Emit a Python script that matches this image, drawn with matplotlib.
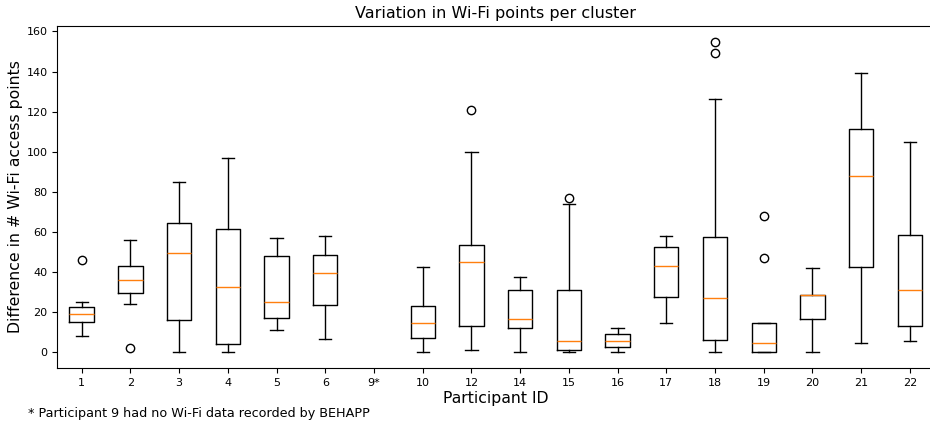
import matplotlib.pyplot as plt

participants = ['1', '2', '3', '4', '5', '6', '9*', '10', '12', '14',
                '15', '16', '17', '18', '19', '20', '21', '22']

# box statistics per participant (None = no data for that participant)
whislo = [8.0, 24.0, 0.0, 0.0, 11.0, 6.8, None, 0.0, 1.0, 0.0,
          0.0, 0.0, 14.6, 0.0, 0.0, 0.0, 4.7, 5.8]
q1 = [15.1, 29.8, 16.3, 4.3, 17.3, 23.6, None, 7.3, 13.1, 12.0,
      1.0, 2.7, 27.8, 6.3, 0.0, 16.8, 42.4, 13.1]
med = [19.0, 36.1, 49.7, 32.4, 25.1, 39.6, None, 14.6, 44.9, 16.8,
       5.8, 5.8, 42.9, 27.3, 4.7, 28.8, 88.0, 30.9]
q3 = [22.6, 42.9, 64.5, 61.7, 48.1, 48.6, None, 23.1, 53.6, 30.9,
      30.9, 9.0, 52.7, 57.6, 14.6, 28.8, 111.6, 58.5]
whishi = [25.3, 56.1, 84.8, 96.8, 56.9, 58.0, None, 42.7, 99.8, 37.6,
          73.9, 12.0, 58.0, 126.1, 14.6, 41.9, 139.4, 105.1]
fliers = [[46.1], [2.2], [], [], [], [], [], [], [120.9], [],
          [76.8], [], [], [149.0, 154.9], [47.1, 68.0], [], [], []]

stats = []
pos = []
for i, p in enumerate(participants):
    if med[i] is None:
        continue
    stats.append(dict(whislo=whislo[i], q1=q1[i], med=med[i], q3=q3[i],
                      whishi=whishi[i], fliers=fliers[i], label=p))
    pos.append(i + 1)

fig = plt.figure(figsize=(9.3, 4.24), dpi=100)
# axes runs a little past the right edge of the figure
ax = fig.add_axes([0.0616, 0.132, 0.943, 0.807])
ax.bxp(stats, positions=pos, widths=0.5)
ax.spines['right'].set_visible(False)

ax.set_xticks(range(1, len(participants) + 1))
ax.set_xticklabels(participants)
ax.set_xlim(0.5, len(participants) + 0.5)
ax.set_ylim(-7.75, 162.75)
ax.set_yticks(range(0, 161, 20))
ax.tick_params(labelsize=8)

ax.set_title('Variation in Wi-Fi points per cluster', fontsize=11.5)
ax.set_xlabel('Participant ID', fontsize=11.3, labelpad=2)
ax.set_ylabel('Difference in # Wi-Fi access points', fontsize=11.3)
ax.yaxis.set_label_coords(-0.039, 0.5)

fig.text(28 / 930, 1 - 413 / 424, '* Participant 9 had no Wi-Fi data recorded by BEHAPP',
         fontsize=9.2, va='center')

fig.savefig('out.png', dpi=100)
